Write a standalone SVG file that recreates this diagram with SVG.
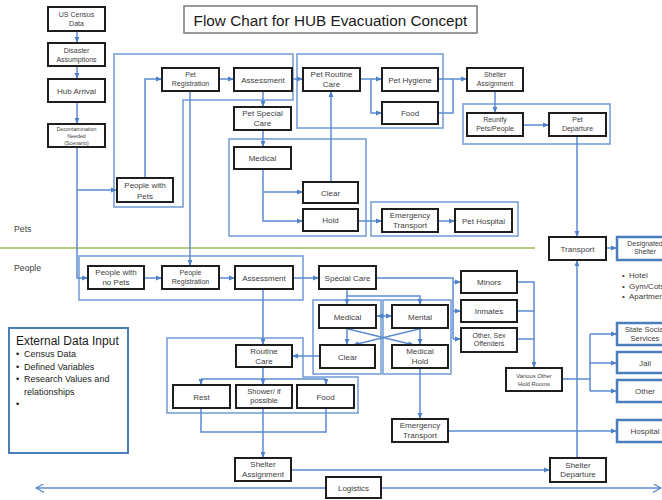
<svg xmlns="http://www.w3.org/2000/svg" width="662" height="500" viewBox="0 0 662 500">
<defs>
<marker id="a" viewBox="0 0 10 10" refX="10" refY="5" markerWidth="6" markerHeight="6" orient="auto-start-reverse" markerUnits="userSpaceOnUse"><path d="M0,1 L10,5 L0,9 Z" fill="#4f81c9"/></marker>
<marker id="v" viewBox="0 0 10 10" refX="9" refY="5" markerWidth="9" markerHeight="9" orient="auto-start-reverse" markerUnits="userSpaceOnUse"><path d="M0,0 L9,5 L0,10" fill="none" stroke="#4f81c9" stroke-width="1.3"/></marker>
<style>
.n rect{fill:#fff;stroke:#1e1e1e;stroke-width:2}
.b rect{fill:#fff;stroke:#4a7ebb;stroke-width:2.5}
.grp{fill:none;stroke:#6f9bd6;stroke-width:1.5}
.c path{fill:none;stroke:#5b8bd0;stroke-width:1.5}
.c .m{marker-end:url(#a)}
text{font-family:"Liberation Sans",Arial,sans-serif;font-size:8px;fill:#404040;text-anchor:middle}
.s7{font-size:7px}
.l{text-anchor:start}
</style>
</defs>
<rect width="662" height="500" fill="#fff"/>

<g id="title"><rect x="184" y="6" width="293" height="27" fill="#fff" stroke="#7a7a7a" stroke-width="1.5"/><text x="330.5" y="26" style="font-size:15.3px;fill:#1a1a1a">Flow Chart for HUB Evacuation Concept</text></g>

<path d="M0,248 H535" stroke="#9bbb59" stroke-width="1.6"/>
<text class="l" x="14" y="232" style="font-size:8.7px">Pets</text>
<text class="l" x="14" y="271" style="font-size:8.7px">People</text>

<g id="groups">
<path class="grp" d="M114,54 H293 V100 H183 V207 H114 Z"/>
<rect class="grp" x="297" y="54" width="146" height="74"/>
<rect class="grp" x="463" y="104" width="147" height="40"/>
<rect class="grp" x="229" y="139" width="137" height="97"/>
<rect class="grp" x="371" y="202" width="147" height="34"/>
<rect class="grp" x="79" y="256" width="224" height="44"/>
<rect class="grp" x="313" y="300" width="68" height="74"/>
<rect class="grp" x="383" y="300" width="68" height="74"/>
<path class="grp" d="M167,338 H303 V377 H358 V413 H167 Z"/>
</g>

<g id="connectors" class="c">
<path class="m" d="M77,31 V43"/>
<path class="m" d="M77,66 V79"/>
<path class="m" d="M77,102 V124"/>
<path class="m" d="M77,147 V278 H88"/>
<path class="m" d="M77,190 H117"/>
<path class="m" d="M145,178 V79 H162"/>
<path class="m" d="M219,79 H234"/>
<path class="m" d="M292,79 H303"/>
<path class="m" d="M263,91 V107"/>
<path class="m" d="M263,130 V147"/>
<path class="m" d="M263,169 V221 H303"/>
<path class="m" d="M263,192 H303"/>
<path class="m" d="M331,182 V91"/>
<path class="m" d="M358,221 H382"/>
<path class="m" d="M438,221 H455"/>
<path class="m" d="M360,79 H382"/>
<path class="m" d="M371,79 V113 H382"/>
<path class="m" d="M438,79 H467"/>
<path d="M438,113 H453 V79"/>
<path class="m" d="M495,91 V113"/>
<path class="m" d="M523,125 H549"/>
<path class="m" d="M577,136 V237"/>
<path class="m" d="M606,248 H617"/>
<path class="m" d="M190,91 V266"/>
<path class="m" d="M144,278 H162"/>
<path class="m" d="M219,278 H235"/>
<path class="m" d="M293,278 H319"/>
<path d="M376,278 H453 V339"/>
<path class="m" d="M453,282 H461"/>
<path class="m" d="M453,311 H461"/>
<path class="m" d="M453,339 H461"/>
<path class="m" d="M517,282 H534 V368"/>
<path d="M517,311 H534"/>
<path d="M517,339 H534"/>
<path d="M562,379 H590"/>
<path d="M590,334 V391"/>
<path class="m" d="M590,334 H617"/>
<path class="m" d="M590,363 H617"/>
<path class="m" d="M590,391 H617"/>
<path class="m" d="M347,289 V305"/>
<path class="m" d="M347,296 H420 V305"/>
<path class="m" d="M377,316 H392" style="marker-start:url(#a)"/>
<path class="m" d="M347,328 V345"/>
<path class="m" d="M420,328 V345"/>
<path class="m" d="M344,328 L414,345"/>
<path class="m" d="M423,328 L353,345"/>
<path class="m" d="M320,356 H292"/>
<path class="m" d="M263,289 V345"/>
<path class="m" d="M263,367 V385"/>
<path d="M201,379 H326"/>
<path class="m" d="M201,379 V385"/>
<path class="m" d="M326,379 V385"/>
<path d="M201,408 V432 H326 V408"/>
<path class="m" d="M263,408 V458"/>
<path class="m" d="M291,470 H550"/>
<path class="m" d="M577,458 V260"/>
<path class="m" d="M420,368 V419"/>
<path class="m" d="M448,431 H617"/>
<path d="M326,488 H36" style="marker-end:url(#v)"/>
<path d="M381,488 H661" style="marker-end:url(#v)"/>
</g>

<g id="census" class="n"><rect x="48" y="7" width="57" height="24"/><text class="s7" x="76.5" y="17">US Census</text><text class="s7" x="76.5" y="26">Data</text></g>
<g id="disaster" class="n"><rect x="48" y="43" width="57" height="23"/><text class="s7" x="76.5" y="52.5">Disaster</text><text class="s7" x="76.5" y="61.5">Assumptions</text></g>
<g id="hub" class="n"><rect x="48" y="79" width="57" height="23"/><text x="76.5" y="93.5">Hub Arrival</text></g>
<g id="decon" class="n"><rect x="48" y="124" width="57" height="23"/><text x="76.5" y="131" style="font-size:5.3px">Decontamination</text><text x="76.5" y="138" style="font-size:5.3px">Needed</text><text x="76.5" y="145" style="font-size:5.3px">(Scenario)</text></g>
<g id="people-with-pets" class="n"><rect x="117" y="178" width="56" height="24"/><text x="145" y="188">People with</text><text x="145" y="199">Pets</text></g>
<g id="pet-registration" class="n"><rect x="162" y="68" width="57" height="23"/><text class="s7" x="190.5" y="77">Pet</text><text class="s7" x="190.5" y="86">Registration</text></g>
<g id="pet-assessment" class="n"><rect x="234" y="68" width="58" height="23"/><text x="263" y="82.5">Assessment</text></g>
<g id="pet-routine-care" class="n"><rect x="303" y="68" width="57" height="23"/><text x="331.5" y="77">Pet Routine</text><text x="331.5" y="87">Care</text></g>
<g id="pet-hygiene" class="n"><rect x="382" y="68" width="56" height="23"/><text x="410" y="82.5">Pet Hygiene</text></g>
<g id="pet-food" class="n"><rect x="382" y="102" width="56" height="22"/><text x="410" y="116">Food</text></g>
<g id="pet-shelter-assignment" class="n"><rect x="467" y="68" width="56" height="23"/><text class="s7" x="495" y="77">Shelter</text><text class="s7" x="495" y="85.5">Assignment</text></g>
<g id="reunify" class="n"><rect x="467" y="113" width="56" height="23"/><text class="s7" x="495" y="122">Reunify</text><text class="s7" x="495" y="130.5">Pets/People</text></g>
<g id="pet-departure" class="n"><rect x="549" y="113" width="57" height="23"/><text class="s7" x="577.5" y="122">Pet</text><text class="s7" x="577.5" y="131">Departure</text></g>
<g id="pet-special-care" class="n"><rect x="234" y="107" width="57" height="23"/><text x="262.5" y="116">Pet Special</text><text x="262.5" y="126">Care</text></g>
<g id="pet-medical" class="n"><rect x="234" y="147" width="57" height="22"/><text x="262.5" y="161">Medical</text></g>
<g id="pet-clear" class="n"><rect x="303" y="182" width="55" height="21"/><text x="330.5" y="195.5">Clear</text></g>
<g id="pet-hold" class="n"><rect x="303" y="209" width="55" height="22"/><text x="330.5" y="223">Hold</text></g>
<g id="pet-emergency-transport" class="n"><rect x="382" y="209" width="56" height="23"/><text x="410" y="218">Emergency</text><text x="410" y="228">Transport</text></g>
<g id="pet-hospital" class="n"><rect x="455" y="209" width="57" height="23"/><text x="483.5" y="223.5">Pet Hospital</text></g>
<g id="transport" class="n"><rect x="549" y="237" width="57" height="23"/><text x="577.5" y="251.5">Transport</text></g>
<g id="designated-shelter" class="b"><rect x="617" y="237" width="56" height="23"/><text class="s7" x="645" y="245.5">Designated</text><text class="s7" x="645" y="253.5">Shelter</text></g>
<g id="shelter-types"><text class="l" x="622" y="278">•</text><text class="l" x="629" y="278">Hotel</text><text class="l" x="622" y="288.5">•</text><text class="l" x="629" y="288.5">Gym/Cots</text><text class="l" x="622" y="299">•</text><text class="l" x="629" y="299">Apartments</text></g>
<g id="people-no-pets" class="n"><rect x="88" y="266" width="56" height="23"/><text x="116" y="275">People with</text><text x="116" y="285">no Pets</text></g>
<g id="people-registration" class="n"><rect x="162" y="266" width="57" height="23"/><text class="s7" x="190.5" y="275">People</text><text class="s7" x="190.5" y="284">Registration</text></g>
<g id="people-assessment" class="n"><rect x="235" y="266" width="58" height="23"/><text x="264" y="281">Assessment</text></g>
<g id="special-care" class="n"><rect x="319" y="266" width="57" height="23"/><text x="347.5" y="281">Special Care</text></g>
<g id="medical" class="n"><rect x="319" y="305" width="57" height="23"/><text x="347.5" y="319.5">Medical</text></g>
<g id="mental" class="n"><rect x="392" y="305" width="56" height="23"/><text x="420" y="319.5">Mental</text></g>
<g id="clear" class="n"><rect x="320" y="345" width="55" height="23"/><text x="347.5" y="359.5">Clear</text></g>
<g id="medical-hold" class="n"><rect x="392" y="345" width="56" height="23"/><text x="420" y="354">Medical</text><text x="420" y="364">Hold</text></g>
<g id="routine-care" class="n"><rect x="236" y="345" width="56" height="22"/><text x="264" y="354">Routine</text><text x="264" y="364">Care</text></g>
<g id="rest" class="n"><rect x="173" y="385" width="57" height="23"/><text x="201.5" y="399.5">Rest</text></g>
<g id="shower" class="n"><rect x="236" y="385" width="56" height="23"/><text x="264" y="394" style="font-size:7.5px">Shower/ if</text><text x="264" y="403" style="font-size:7.5px">possible</text></g>
<g id="food" class="n"><rect x="297" y="385" width="57" height="23"/><text x="325.5" y="399.5">Food</text></g>
<g id="shelter-assignment" class="n"><rect x="235" y="458" width="56" height="23"/><text x="263" y="467">Shelter</text><text x="263" y="476.5">Assignment</text></g>
<g id="shelter-departure" class="n"><rect x="550" y="458" width="56" height="24"/><text x="578" y="467.5">Shelter</text><text x="578" y="477">Departure</text></g>
<g id="logistics" class="n"><rect x="326" y="477" width="55" height="21"/><text x="353.5" y="491">Logistics</text></g>
<g id="emergency-transport" class="n"><rect x="392" y="419" width="56" height="23"/><text x="420" y="428">Emergency</text><text x="420" y="438">Transport</text></g>
<g id="minors" class="n"><rect x="461" y="271" width="56" height="22"/><text x="489" y="285">Minors</text></g>
<g id="inmates" class="n"><rect x="461" y="300" width="56" height="22"/><text x="489" y="314">Inmates</text></g>
<g id="other-sex-offenders" class="n"><rect x="461" y="328" width="56" height="24"/><text class="s7" x="489" y="337.5">Other, Sex</text><text class="s7" x="489" y="346">Offenders</text></g>
<g id="various-hold-rooms" class="n"><rect x="506" y="368" width="56" height="23"/><text x="534" y="377.5" style="font-size:5.8px">Various Other</text><text x="534" y="386" style="font-size:5.8px">Hold Rooms</text></g>
<g id="state-social-services" class="b"><rect x="617" y="323" width="56" height="22"/><text x="645" y="332" style="font-size:7.5px">State Social</text><text x="645" y="341" style="font-size:7.5px">Services</text></g>
<g id="jail" class="b"><rect x="617" y="352" width="56" height="21"/><text x="645" y="366">Jail</text></g>
<g id="other" class="b"><rect x="617" y="380" width="56" height="22"/><text x="645" y="394">Other</text></g>
<g id="hospital" class="b"><rect x="617" y="420" width="56" height="22"/><text x="645" y="434">Hospital</text></g>
<g id="external-data-input"><rect x="9" y="328" width="119" height="125" fill="#fff" stroke="#4a7ebb" stroke-width="2"/>
<text class="l" x="16" y="345" style="font-size:12px;fill:#1a1a1a">External Data Input</text>
<text class="l" x="16" y="357" style="font-size:9px;fill:#1a1a1a">•</text><text class="l" x="24" y="357" style="font-size:9px;fill:#1a1a1a">Census Data</text>
<text class="l" x="16" y="370" style="font-size:9px;fill:#1a1a1a">•</text><text class="l" x="24" y="370" style="font-size:9px;fill:#1a1a1a">Defined Variables</text>
<text class="l" x="16" y="382" style="font-size:9px;fill:#1a1a1a">•</text><text class="l" x="24" y="382" style="font-size:9px;fill:#1a1a1a">Research Values and</text>
<text class="l" x="24" y="395" style="font-size:9px;fill:#1a1a1a">relationships</text>
<text class="l" x="16" y="407" style="font-size:9px;fill:#1a1a1a">•</text>
</g>
</svg>
